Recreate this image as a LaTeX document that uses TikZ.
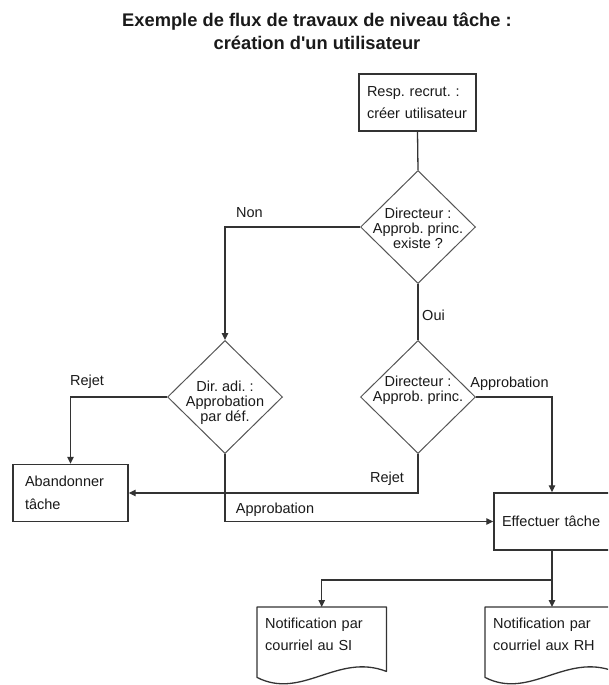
\documentclass[tikz,border=0pt]{standalone}
\usepackage{fontspec}
\setmainfont{Liberation Sans}
\usetikzlibrary{shapes.geometric,arrows.meta}
\frenchspacing

\definecolor{ink}{HTML}{1A1A1A}
\definecolor{wire}{HTML}{333333}
\definecolor{rim}{HTML}{555555}

\begin{document}
\begin{tikzpicture}[x=1pt,y=-1pt,
  every node/.style={text=ink},
  lbl/.style={font=\fontsize{14.5}{15}\selectfont, anchor=base, inner sep=0pt},
  taskbox/.style={draw=wire, line width=1.4pt, rectangle, minimum height=57pt,
    align=left, inner xsep=8pt, font=\fontsize{14.5}{22.5}\selectfont},
  decision/.style={draw=rim, line width=1pt, diamond, minimum width=115pt,
    minimum height=113pt, inner sep=0pt},
  dtext/.style={align=center, font=\fontsize{14.5}{15}\selectfont, inner sep=0pt},
  docbox/.style={rectangle, minimum width=129pt, minimum height=54pt, text width=113pt,
    inner xsep=8pt, align=left, anchor=north west, font=\fontsize{14.5}{22}\selectfont},
  docedge/.style={draw=wire, line width=1.3pt, line join=round},
  flow/.style={draw=wire, line width=1.3pt},
  arr/.style={flow, -{Triangle[length=7pt,width=6.5pt]}},
]
% page frame
\fill[white] (0,0) rectangle (608,685);
\clip (0,0) rectangle (608,685);

% heading
\node[font=\bfseries\fontsize{18.3}{23}\selectfont, align=center] (title) at (317,31)
  {Exemple de flux de travaux de niveau tâche :\\création d\textquotesingle un utilisateur};

% start task
\node[taskbox, minimum width=117pt, text width=101pt] (resp) at (417.5,102.5)
  {Resp. recrut. :\\créer utilisateur};

% decisions
\node[decision] (d1) at (418,227) {};
\node[dtext] (d1t) at (418,228) {Directeur :\\Approb. princ.\\existe ?};
\node[decision] (d2) at (418,397) {};
\node[dtext] (d2t) at (418,390.5) {Directeur :\\Approb. princ.};
\node[decision] (d3) at (225,397) {};
\node[dtext] (d3t) at (225,403) {Dir. adi. :\\Approbation\\par déf.};

% outcome tasks
\node[taskbox, minimum width=115pt, text width=91pt, inner xsep=12pt] (aband) at (70.5,493)
  {Abandonner\\tâche};
\node[taskbox, minimum width=116pt, text width=100pt] (eff) at (552,521.5)
  {Effectuer tâche};

% notification documents
\node[docbox] (doc1) at (257,607) {Notification par\\courriel au SI};
\node[docbox] (doc2) at (485,607) {Notification par\\courriel aux RH};
\foreach \d in {doc1,doc2}{
  \draw[docedge] ([yshift=-16pt]\d.south west) -- (\d.north west) -- (\d.north east)
    -- ([yshift=-10pt]\d.south east)
    .. controls +(-49,-19) and +(45,23) .. ([yshift=-16pt]\d.south west) -- cycle;
}

% connectors
\draw[flow] (resp.south) -- (d1.north);
\draw[arr] (d1.west) -| (d3.north);
\draw[flow] (d1.south) -- (d2.north);
\draw[arr] (d2.east) -| (eff.north);
\draw[arr] (d2.south) |- (aband.east);
\draw[arr] (d3.west) -| (aband.north);
\draw[arr] (d3.south) |- (eff.west);
\coordinate (split) at (552,580);
\draw[flow] (eff.south) -- (split);
\draw[arr] (split) -| (doc1.north);
\draw[arr] (split) -- (split |- doc2.north);

% branch labels
\node[lbl] (lnon) at (249.5,217) {Non};
\node[lbl] (loui) at (433.5,320) {Oui};
\node[lbl] (lapp1) at (509.5,387) {Approbation};
\node[lbl] (lrej1) at (387,482) {Rejet};
\node[lbl] (lrej2) at (87,385) {Rejet};
\node[lbl] (lapp2) at (275,513) {Approbation};
\end{tikzpicture}
\end{document}
